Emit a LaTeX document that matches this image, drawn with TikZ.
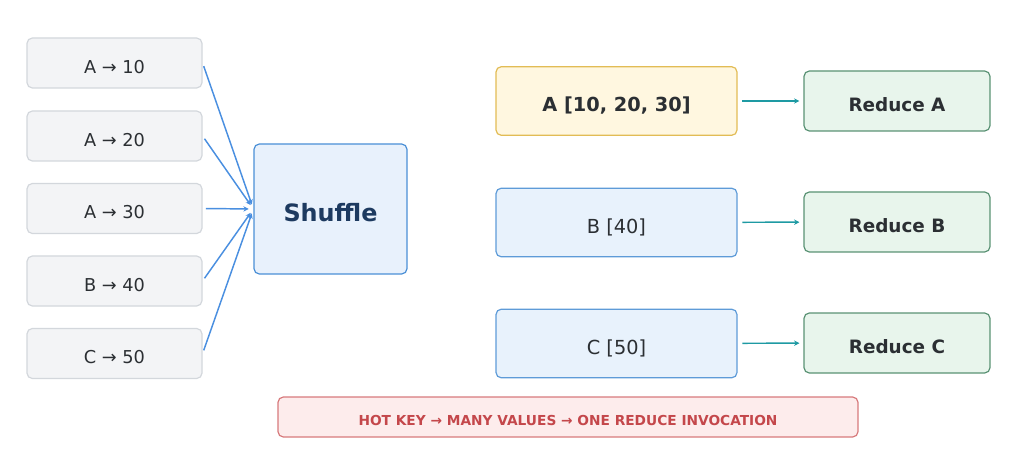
\documentclass[tikz,border=0pt]{standalone}
\usepackage{fontspec}
\setmainfont{DejaVu Sans}
\usepackage{tikz}
\usetikzlibrary{arrows.meta}
\tikzset{
every picture/.style={
line width=0.9pt
}}
\definecolor{kvfill}{HTML}{F3F4F6}
\definecolor{kvline}{HTML}{D3D7DC}
\definecolor{inktext}{HTML}{2B2F33}
\definecolor{shufill}{HTML}{E8F1FC}
\definecolor{shuline}{HTML}{4A8FD6}
\definecolor{shutext}{HTML}{1D3A60}
\definecolor{hotfill}{HTML}{FFF7E0}
\definecolor{hotline}{HTML}{E2BC55}
\definecolor{grpfill}{HTML}{E8F2FC}
\definecolor{grpline}{HTML}{5E9BD8}
\definecolor{redfill}{HTML}{E8F5EC}
\definecolor{redline}{HTML}{5A9274}
\definecolor{flowteal}{HTML}{1E9AA3}
\definecolor{flowblue}{HTML}{4A8FE0}
\definecolor{banfill}{HTML}{FDECEC}
\definecolor{banline}{HTML}{D77A7C}
\definecolor{bantext}{HTML}{C4474B}

\begin{document}
\begin{tikzpicture}[x=0.75pt, y=-0.75pt,
kv/.style = {rectangle, rounded corners=4pt, draw=kvline, fill=kvfill, text=inktext,
  minimum width=131.25pt, minimum height=37.5pt, inner sep=0pt,
  text height=15.3pt, text depth=0pt, font=\fontsize{13.3}{16}\selectfont},
shuffle/.style = {rectangle, rounded corners=4pt, draw=shuline, fill=shufill, text=shutext,
  minimum width=114.75pt, minimum height=97.5pt, inner sep=0pt,
  text height=18.6pt, text depth=0pt, font=\fontsize{17.9}{21}\selectfont\bfseries},
group/.style = {rectangle, rounded corners=4pt, draw=grpline, fill=grpfill, text=inktext,
  minimum width=180.75pt, minimum height=51.5pt, inner sep=0pt,
  text height=16.2pt, text depth=0pt, font=\fontsize{14.5}{17}\selectfont},
hotgroup/.style = {group, draw=hotline, fill=hotfill, font=\fontsize{14.5}{17}\selectfont\bfseries},
reduce/.style = {rectangle, rounded corners=4pt, draw=redline, fill=redfill, text=inktext,
  minimum width=139.5pt, minimum height=45pt, inner sep=0pt,
  text height=15.7pt, text depth=0pt, font=\fontsize{13.8}{17}\selectfont\bfseries},
banner/.style = {rectangle, rounded corners=4pt, draw=banline, fill=banfill, text=bantext,
  minimum width=435pt, minimum height=30pt, inner sep=0pt,
  text height=13.1pt, text depth=0pt, font=\fontsize{10.3}{12}\selectfont\bfseries},
fan/.style = {flowblue, line width=1.1pt, -{Stealth[length=4pt,width=4pt]}, shorten <=2.5pt, shorten >=3.5pt},
feed/.style = {flowteal, line width=1.1pt, -{Stealth[length=4pt,width=4pt]}, shorten <=3.5pt, shorten >=3pt}]

\useasboundingbox (0,0) rectangle (1024,452);

% map output
\node [kv] (a10) at (114.5,63) {A → 10};
\node [kv] (a20) at (114.5,136) {A → 20};
\node [kv] (a30) at (114.5,208.5) {A → 30};
\node [kv] (b40) at (114.5,281) {B → 40};
\node [kv] (c50) at (114.5,353.5) {C → 50};

\node [shuffle] (shuf) at (330.5,209) {Shuffle};

\draw [fan] (a10.east) -- (shuf.west);
\draw [fan] (a20.east) -- (shuf.west);
\draw [fan] (a30.east) -- (shuf.west);
\draw [fan] (b40.east) -- (shuf.west);
\draw [fan] (c50.east) -- (shuf.west);

% grouped keys
\node [hotgroup] (ga) at (616.5,101) {A [10, 20, 30]};
\node [group] (gb) at (616.5,222.5) {B [40]};
\node [group] (gc) at (616.5,343.5) {C [50]};

\node [reduce] (ra) at (897,101) {Reduce A};
\node [reduce] (rb) at (897,222) {Reduce B};
\node [reduce] (rc) at (897,343) {Reduce C};

\draw [feed] (ga) -- (ra);
\draw [feed] (gb) -- (rb);
\draw [feed] (gc) -- (rc);

\node [banner] (hot) at (568,417) {HOT KEY → MANY VALUES → ONE REDUCE INVOCATION};

\end{tikzpicture}
\end{document}
